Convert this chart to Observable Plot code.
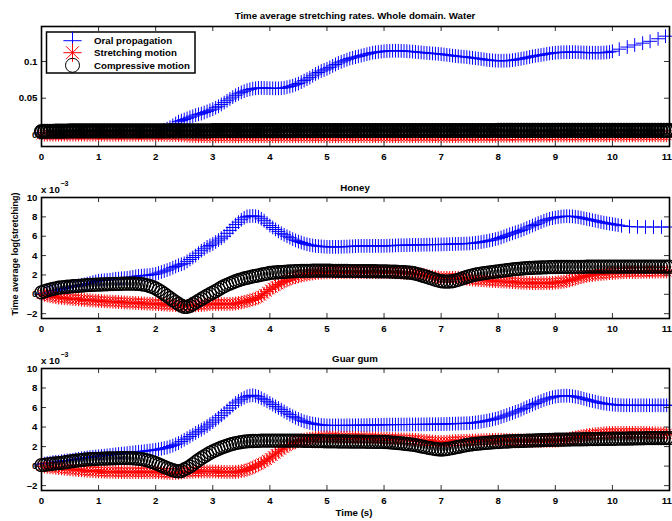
<!DOCTYPE html>
<html><head><meta charset="utf-8">
<script src="https://cdn.jsdelivr.net/npm/d3@7"></script>
<script src="https://cdn.jsdelivr.net/npm/@observablehq/plot@0.6"></script>
<style>
body{margin:0;background:#fff;}
#wrap{position:relative;width:672px;height:521px;overflow:hidden;background:#fff;}
</style></head><body><div id="wrap"></div>
<script>
// ---- time grid (s), one sample every 0.05 s ----
const times = [
0,0.05,0.1,0.15,0.2,0.25,0.3,0.35,0.4,0.45,0.5,0.55,0.6,0.65,0.7,0.75,0.8,0.85,0.9,0.95,
1,1.05,1.1,1.15,1.2,1.25,1.3,1.35,1.4,1.45,1.5,1.55,1.6,1.65,1.7,1.75,1.8,1.85,1.9,1.95,
2,2.05,2.1,2.15,2.2,2.25,2.3,2.35,2.4,2.45,2.5,2.55,2.6,2.65,2.7,2.75,2.8,2.85,2.9,2.95,
3,3.05,3.1,3.15,3.2,3.25,3.3,3.35,3.4,3.45,3.5,3.55,3.6,3.65,3.7,3.75,3.8,3.85,3.9,3.95,
4,4.05,4.1,4.15,4.2,4.25,4.3,4.35,4.4,4.45,4.5,4.55,4.6,4.65,4.7,4.75,4.8,4.85,4.9,4.95,
5,5.05,5.1,5.15,5.2,5.25,5.3,5.35,5.4,5.45,5.5,5.55,5.6,5.65,5.7,5.75,5.8,5.85,5.9,5.95,
6,6.05,6.1,6.15,6.2,6.25,6.3,6.35,6.4,6.45,6.5,6.55,6.6,6.65,6.7,6.75,6.8,6.85,6.9,6.95,
7,7.05,7.1,7.15,7.2,7.25,7.3,7.35,7.4,7.45,7.5,7.55,7.6,7.65,7.7,7.75,7.8,7.85,7.9,7.95,
8,8.05,8.1,8.15,8.2,8.25,8.3,8.35,8.4,8.45,8.5,8.55,8.6,8.65,8.7,8.75,8.8,8.85,8.9,8.95,
9,9.05,9.1,9.15,9.2,9.25,9.3,9.35,9.4,9.45,9.5,9.55,9.6,9.65,9.7,9.75,9.8,9.85,9.9,9.95,
10,10.05,10.1,10.15,10.2,10.25,10.3,10.35,10.4,10.45,10.5,10.55,10.6,10.65,10.7,10.75,10.8,10.85,10.9,10.95,
11];

const seriesNames = ["Oral propagation","Stretching motion","Compressive motion"];
const panelTitles = ["Time average stretching rates. Whole domain. Water","Honey","Guar gum"];
const xTicks = [0,1,2,3,4,5,6,7,8,9,10,11];
const yTicksWater = [0,0.05,0.1];
const yTicksFluid = [-2,0,2,4,6,8,10];

// ---- Water ----
const waterBlue = [
0.003,0.003,0.003,0.003,0.003,0.003,0.003,0.003,0.0032,0.0032,0.0034,0.0034,0.0035,0.0035,0.0036,0.0036,0.0038,0.0038,0.004,0.004,
0.004,0.0041,0.0042,0.0042,0.0043,0.0043,0.0044,0.0044,0.0045,0.0045,0.0046,0.0046,0.0047,0.0047,0.0048,0.0048,0.0049,0.0049,0.005,0.005,
0.005,0.0055,0.006,0.007,0.0085,0.0105,0.013,0.0155,0.018,0.0195,0.021,0.0225,0.024,0.0255,0.027,0.028,0.029,0.0305,0.032,0.0335,
0.035,0.037,0.039,0.0415,0.044,0.0465,0.049,0.0515,0.054,0.056,0.058,0.0595,0.061,0.062,0.063,0.0635,0.064,0.064,0.064,0.0638,
0.0636,0.0635,0.0634,0.0634,0.0636,0.0642,0.065,0.066,0.067,0.0685,0.070,0.072,0.074,0.076,0.078,0.0805,0.083,0.085,0.087,0.0885,
0.090,0.092,0.094,0.096,0.098,0.0995,0.101,0.1025,0.104,0.105,0.106,0.107,0.108,0.109,0.110,0.111,0.112,0.1125,0.113,0.1135,
0.114,0.1143,0.1145,0.1146,0.1146,0.1146,0.1145,0.1143,0.114,0.1138,0.1135,0.1131,0.1127,0.1124,0.112,0.1117,0.1113,0.111,0.1107,0.1104,
0.110,0.1095,0.109,0.1085,0.108,0.1075,0.107,0.1067,0.1064,0.106,0.1055,0.105,0.1045,0.104,0.1035,0.1029,0.1023,0.1019,0.1015,0.1012,
0.101,0.101,0.101,0.1012,0.1014,0.1019,0.1025,0.1031,0.1037,0.1045,0.1053,0.1061,0.107,0.1077,0.1083,0.1089,0.1095,0.1103,0.111,0.1115,
0.112,0.1123,0.1125,0.1126,0.1127,0.1128,0.1128,0.1128,0.1127,0.1125,0.1123,0.1121,0.112,0.112,0.112,0.112,0.112,0.1122,0.1125,0.113,
0.114];
const waterBlueTailT = [10.12,10.26,10.39,10.53,10.66,10.8,10.93];
const waterBlueTail = [0.1168,0.1197,0.1225,0.125,0.1275,0.131,0.1345];
const waterRed = [
0.0003,0.0003,0.0003,0.0003,0.0003,0.0003,0.0003,0.0003,0.0003,0.0003,0.0003,0.0003,0.0003,0.0003,0.0003,0.0003,0.0003,0.0003,0.0003,0.0003,
0.0002,0.0002,0.0002,0.0002,0.0002,0.0002,0.0002,0.0002,0.0002,0.0002,0.0002,0.0002,0.0002,0.0002,0.0002,0.0002,0.0002,0.0002,0.0002,0.0002,
0.0001,0.0001,0,0,0,0,-0.0001,-0.0002,-0.0003,-0.0005,-0.0007,-0.001,-0.0012,-0.0013,-0.0014,-0.0015,-0.0016,-0.0016,-0.0017,-0.0017,
-0.0018,-0.0018,-0.0018,-0.0018,-0.0018,-0.0018,-0.0018,-0.0018,-0.0018,-0.0018,-0.0018,-0.0018,-0.0018,-0.0018,-0.0018,-0.0018,-0.0018,-0.0018,-0.0018,-0.0018,
-0.0018,-0.0018,-0.0018,-0.0018,-0.0018,-0.0018,-0.0018,-0.0018,-0.0018,-0.0018,-0.0018,-0.0018,-0.0018,-0.0018,-0.0018,-0.0018,-0.0018,-0.0018,-0.0018,-0.0018,
-0.0018,-0.0018,-0.0018,-0.0018,-0.0018,-0.0018,-0.0018,-0.0018,-0.0018,-0.0018,-0.0017,-0.0017,-0.0017,-0.0017,-0.0017,-0.0017,-0.0017,-0.0017,-0.0017,-0.0017,
-0.0017,-0.0017,-0.0017,-0.0017,-0.0017,-0.0017,-0.0017,-0.0017,-0.0017,-0.0017,-0.0016,-0.0016,-0.0016,-0.0016,-0.0016,-0.0016,-0.0016,-0.0016,-0.0016,-0.0016,
-0.0016,-0.0016,-0.0016,-0.0016,-0.0016,-0.0016,-0.0015,-0.0015,-0.0015,-0.0015,-0.0015,-0.0015,-0.0015,-0.0015,-0.0014,-0.0014,-0.0014,-0.0014,-0.0013,-0.0013,
-0.0012,-0.0012,-0.0012,-0.0012,-0.0011,-0.0011,-0.0011,-0.0011,-0.001,-0.001,-0.001,-0.001,-0.001,-0.001,-0.0009,-0.0009,-0.0009,-0.0009,-0.0009,-0.0009,
-0.0008,-0.0008,-0.0008,-0.0008,-0.0008,-0.0008,-0.0008,-0.0008,-0.0008,-0.0008,-0.0007,-0.0007,-0.0007,-0.0007,-0.0007,-0.0007,-0.0007,-0.0007,-0.0007,-0.0007,
-0.0006,-0.0006,-0.0006,-0.0006,-0.0006,-0.0006,-0.0006,-0.0006,-0.0006,-0.0006,-0.0006,-0.0006,-0.0006,-0.0006,-0.0006,-0.0006,-0.0006,-0.0006,-0.0006,-0.0006,
-0.0006];
const waterBlack = [
0.0045,0.0048,0.005,0.005,0.005,0.0051,0.0052,0.0052,0.0053,0.0053,0.0054,0.0054,0.0055,0.0055,0.0055,0.0055,0.0055,0.0055,0.0055,0.0055,
0.0055,0.0055,0.0055,0.0055,0.0055,0.0055,0.0055,0.0055,0.0055,0.0055,0.0055,0.0055,0.0055,0.0055,0.0055,0.0055,0.0055,0.0055,0.0055,0.0055,
0.0055,0.0055,0.0055,0.0055,0.0055,0.0055,0.0055,0.0055,0.0055,0.0055,0.0056,0.0056,0.0056,0.0056,0.0056,0.0056,0.0056,0.0056,0.0056,0.0056,
0.0057,0.0057,0.0057,0.0057,0.0057,0.0057,0.0057,0.0057,0.0057,0.0057,0.0058,0.0058,0.0058,0.0058,0.0058,0.0058,0.0058,0.0058,0.0058,0.0058,
0.0059,0.0059,0.0059,0.0059,0.0059,0.0059,0.0059,0.0059,0.0059,0.0059,0.006,0.006,0.006,0.006,0.006,0.006,0.006,0.006,0.006,0.006,
0.006,0.006,0.006,0.006,0.006,0.006,0.006,0.006,0.006,0.006,0.006,0.006,0.006,0.006,0.006,0.006,0.006,0.006,0.006,0.006,
0.006,0.006,0.006,0.006,0.006,0.006,0.006,0.006,0.006,0.006,0.006,0.006,0.006,0.006,0.006,0.006,0.006,0.006,0.006,0.006,
0.006,0.006,0.006,0.006,0.006,0.006,0.006,0.006,0.006,0.006,0.006,0.006,0.006,0.006,0.006,0.006,0.006,0.006,0.006,0.006,
0.0061,0.0061,0.0061,0.0061,0.0061,0.0061,0.0061,0.0061,0.0061,0.0061,0.0061,0.0061,0.0061,0.0061,0.0061,0.0061,0.0061,0.0061,0.0061,0.0061,
0.0062,0.0062,0.0062,0.0062,0.0062,0.0062,0.0062,0.0062,0.0062,0.0062,0.0062,0.0062,0.0062,0.0062,0.0062,0.0062,0.0062,0.0062,0.0062,0.0062,
0.0062,0.0062,0.0062,0.0062,0.0062,0.0062,0.0062,0.0062,0.0062,0.0062,0.0062,0.0062,0.0062,0.0062,0.0062,0.0062,0.0062,0.0062,0.0062,0.0062,
0.0062];

// ---- Honey (x 10^-3) ----
const honeyBlue = [
0.0,0.07,0.15,0.22,0.3,0.37,0.45,0.52,0.6,0.67,0.75,0.8,0.85,0.9,0.95,1.02,1.1,1.17,1.25,1.32,
1.4,1.42,1.45,1.47,1.5,1.55,1.6,1.62,1.65,1.67,1.7,1.75,1.8,1.85,1.9,1.92,1.95,1.97,2.0,2.05,
2.1,2.2,2.3,2.4,2.5,2.62,2.75,2.87,3.0,3.1,3.2,3.4,3.6,3.8,4.0,4.25,4.5,4.7,4.9,5.05,
5.2,5.4,5.6,5.8,6.0,6.3,6.6,6.9,7.2,7.45,7.7,7.9,8.05,8.08,8.1,8.07,8.0,7.8,7.6,7.35,
7.1,6.9,6.7,6.5,6.3,6.15,6.0,5.85,5.7,5.57,5.45,5.35,5.25,5.17,5.1,5.05,5.0,4.97,4.95,4.92,
4.9,4.9,4.9,4.9,4.9,4.91,4.92,4.93,4.95,4.96,4.98,4.99,5.0,5.0,5.0,5.0,5.0,5.0,5.0,5.0,
5.0,5.01,5.02,5.03,5.05,5.06,5.07,5.07,5.08,5.09,5.1,5.1,5.1,5.11,5.12,5.12,5.13,5.13,5.14,5.14,
5.15,5.16,5.17,5.18,5.19,5.2,5.21,5.22,5.23,5.24,5.25,5.28,5.32,5.36,5.4,5.45,5.5,5.56,5.62,5.7,
5.77,5.87,5.98,6.09,6.2,6.3,6.4,6.5,6.6,6.72,6.85,6.97,7.1,7.22,7.35,7.47,7.6,7.7,7.8,7.87,
7.93,7.98,8.02,8.05,8.07,8.06,8.05,8.01,7.97,7.91,7.85,7.79,7.73,7.66,7.6,7.53,7.46,7.4,7.35,7.3,
7.25,7.2,7.15];
const honeyBlueTailT = [10.16,10.3,10.44,10.58,10.72,10.86,11.0];
const honeyBlueTail = [7.08,7.0,6.96,6.95,6.95,6.95,6.95];
const honeyRed = [
0,-0.06,-0.12,-0.18,-0.25,-0.3,-0.34,-0.37,-0.4,-0.43,-0.45,-0.48,-0.5,-0.53,-0.55,-0.58,-0.6,-0.62,-0.64,-0.66,
-0.68,-0.7,-0.72,-0.74,-0.75,-0.77,-0.78,-0.8,-0.82,-0.84,-0.85,-0.87,-0.88,-0.9,-0.91,-0.93,-0.94,-0.96,-0.97,-0.99,
-1.0,-1.02,-1.03,-1.05,-1.07,-1.09,-1.1,-1.12,-1.15,-1.18,-1.2,-1.19,-1.18,-1.16,-1.14,-1.12,-1.1,-1.08,-1.05,-1.02,
-1.0,-1.0,-1.0,-1.0,-1.0,-1.0,-1.0,-1.0,-0.95,-0.9,-0.85,-0.78,-0.7,-0.63,-0.55,-0.45,-0.34,-0.15,0.05,0.27,
0.5,0.67,0.85,1.02,1.2,1.32,1.45,1.58,1.7,1.78,1.85,1.93,2.0,2.05,2.1,2.15,2.2,2.22,2.25,2.26,
2.27,2.28,2.28,2.29,2.3,2.3,2.3,2.3,2.3,2.3,2.3,2.3,2.3,2.3,2.3,2.3,2.3,2.3,2.3,2.3,
2.3,2.3,2.3,2.3,2.28,2.27,2.25,2.23,2.22,2.21,2.2,2.15,2.1,2.05,2.0,1.93,1.86,1.81,1.76,1.73,
1.7,1.7,1.7,1.7,1.7,1.7,1.7,1.67,1.63,1.6,1.56,1.53,1.5,1.48,1.46,1.44,1.42,1.4,1.38,1.36,
1.35,1.33,1.31,1.3,1.28,1.26,1.24,1.22,1.2,1.19,1.18,1.17,1.16,1.15,1.15,1.15,1.15,1.16,1.17,1.18,
1.2,1.23,1.27,1.31,1.35,1.43,1.52,1.61,1.7,1.77,1.84,1.9,1.96,2.0,2.03,2.07,2.1,2.13,2.15,2.18,
2.2,2.22,2.25,2.27,2.28,2.29,2.3,2.3,2.3,2.31,2.32,2.32,2.33,2.33,2.34,2.34,2.35,2.35,2.35,2.35,
2.35];
const honeyBlack = [
0.2,0.3,0.4,0.48,0.55,0.62,0.68,0.72,0.75,0.78,0.8,0.83,0.85,0.88,0.9,0.92,0.94,0.96,0.97,0.99,
1.0,1.01,1.02,1.04,1.05,1.06,1.07,1.08,1.09,1.1,1.1,1.1,1.1,1.09,1.07,1.04,1.0,0.93,0.85,0.74,
0.6,0.43,0.25,0.04,-0.17,-0.38,-0.6,-0.8,-1.0,-1.17,-1.3,-1.3,-1.2,-1.03,-0.85,-0.67,-0.5,-0.32,-0.15,0.01,
0.17,0.33,0.5,0.68,0.85,0.98,1.1,1.23,1.35,1.45,1.55,1.63,1.7,1.78,1.85,1.9,1.96,2.02,2.08,2.14,
2.2,2.23,2.25,2.28,2.3,2.32,2.34,2.36,2.37,2.39,2.4,2.41,2.42,2.43,2.43,2.44,2.44,2.44,2.44,2.44,
2.44,2.44,2.43,2.43,2.42,2.42,2.41,2.41,2.4,2.4,2.4,2.4,2.39,2.39,2.38,2.38,2.38,2.38,2.37,2.37,
2.37,2.36,2.35,2.34,2.33,2.32,2.3,2.28,2.25,2.23,2.2,2.13,2.05,1.97,1.88,1.79,1.7,1.6,1.5,1.42,
1.35,1.32,1.3,1.32,1.35,1.42,1.5,1.6,1.7,1.79,1.88,1.96,2.03,2.08,2.13,2.18,2.22,2.26,2.3,2.34,
2.37,2.41,2.45,2.49,2.53,2.57,2.6,2.63,2.65,2.68,2.7,2.72,2.73,2.75,2.76,2.77,2.78,2.79,2.8,2.81,
2.82,2.82,2.83,2.83,2.83,2.84,2.84,2.84,2.84,2.84,2.84,2.85,2.85,2.85,2.85,2.85,2.85,2.85,2.85,2.85,
2.85,2.85,2.85,2.85,2.85,2.85,2.85,2.85,2.85,2.85,2.85,2.85,2.85,2.85,2.85,2.85,2.85,2.85,2.85,2.85,
2.85];

// ---- Guar gum (x 10^-3) ----
const guarBlue = [
0.2,0.25,0.3,0.35,0.4,0.43,0.45,0.5,0.55,0.58,0.6,0.65,0.7,0.75,0.8,0.84,0.88,0.92,0.95,0.98,
1.0,1.04,1.07,1.1,1.13,1.17,1.2,1.24,1.27,1.3,1.33,1.37,1.4,1.44,1.47,1.5,1.53,1.57,1.6,1.64,
1.67,1.72,1.78,1.84,1.9,2.0,2.1,2.23,2.36,2.53,2.7,2.87,3.04,3.22,3.4,3.57,3.73,3.91,4.1,4.3,
4.5,4.72,4.95,5.2,5.45,5.7,5.95,6.21,6.47,6.67,6.85,7.0,7.15,7.22,7.26,7.2,7.1,6.95,6.8,6.64,
6.47,6.3,6.12,5.95,5.78,5.6,5.43,5.27,5.1,4.96,4.83,4.7,4.58,4.5,4.42,4.36,4.3,4.26,4.22,4.2,
4.17,4.17,4.17,4.17,4.17,4.17,4.17,4.18,4.18,4.18,4.18,4.19,4.19,4.2,4.2,4.21,4.21,4.22,4.22,4.23,
4.24,4.24,4.25,4.25,4.25,4.25,4.26,4.26,4.26,4.26,4.27,4.27,4.27,4.27,4.28,4.28,4.29,4.29,4.29,4.29,
4.3,4.31,4.32,4.33,4.34,4.35,4.36,4.37,4.38,4.39,4.4,4.43,4.47,4.51,4.55,4.6,4.65,4.71,4.78,4.85,
4.93,5.03,5.13,5.23,5.34,5.44,5.55,5.66,5.78,5.91,6.04,6.17,6.3,6.42,6.55,6.66,6.78,6.88,6.97,7.05,
7.12,7.16,7.19,7.21,7.22,7.2,7.16,7.11,7.05,6.98,6.9,6.82,6.74,6.67,6.6,6.53,6.47,6.42,6.38,6.34,
6.3,6.28,6.26,6.24,6.23,6.23,6.23,6.23,6.23,6.23,6.23,6.23,6.23,6.23,6.23,6.23,6.23,6.23,6.23,6.23,
6.23];
const guarRed = [
0,-0.04,-0.08,-0.12,-0.15,-0.18,-0.2,-0.23,-0.27,-0.3,-0.33,-0.36,-0.38,-0.41,-0.43,-0.46,-0.48,-0.5,-0.52,-0.54,
-0.55,-0.56,-0.57,-0.58,-0.59,-0.59,-0.6,-0.6,-0.61,-0.61,-0.62,-0.62,-0.62,-0.62,-0.62,-0.62,-0.62,-0.62,-0.62,-0.62,
-0.62,-0.63,-0.65,-0.67,-0.69,-0.71,-0.72,-0.7,-0.68,-0.65,-0.62,-0.6,-0.58,-0.57,-0.56,-0.55,-0.55,-0.55,-0.55,-0.55,
-0.55,-0.56,-0.57,-0.58,-0.59,-0.6,-0.6,-0.6,-0.6,-0.57,-0.52,-0.46,-0.38,-0.27,-0.15,-0.01,0.13,0.29,0.45,0.63,
0.82,1.03,1.25,1.46,1.67,1.87,2.05,2.21,2.36,2.46,2.55,2.63,2.7,2.75,2.8,2.84,2.88,2.9,2.92,2.93,
2.94,2.94,2.93,2.93,2.92,2.91,2.9,2.9,2.89,2.89,2.88,2.87,2.86,2.86,2.85,2.84,2.83,2.83,2.82,2.81,
2.8,2.79,2.78,2.77,2.76,2.75,2.74,2.73,2.72,2.71,2.7,2.68,2.66,2.63,2.6,2.58,2.55,2.52,2.5,2.48,
2.47,2.48,2.5,2.52,2.54,2.56,2.57,2.58,2.59,2.6,2.6,2.61,2.62,2.63,2.64,2.65,2.66,2.67,2.68,2.69,
2.7,2.69,2.68,2.67,2.66,2.65,2.64,2.63,2.62,2.61,2.6,2.6,2.6,2.6,2.6,2.6,2.6,2.6,2.6,2.6,
2.6,2.62,2.65,2.7,2.75,2.81,2.88,2.94,3.0,3.05,3.1,3.15,3.2,3.24,3.27,3.3,3.32,3.35,3.37,3.39,
3.4,3.4,3.4,3.4,3.4,3.4,3.4,3.4,3.4,3.4,3.4,3.4,3.39,3.38,3.37,3.36,3.35,3.34,3.33,3.32,
3.3];
const guarBlack = [
0.1,0.13,0.17,0.2,0.24,0.27,0.3,0.34,0.38,0.42,0.47,0.51,0.55,0.59,0.62,0.65,0.68,0.7,0.72,0.74,
0.75,0.76,0.77,0.78,0.79,0.8,0.8,0.81,0.81,0.82,0.82,0.81,0.8,0.78,0.75,0.71,0.65,0.58,0.5,0.41,
0.3,0.18,0.05,-0.08,-0.2,-0.32,-0.42,-0.5,-0.55,-0.5,-0.35,-0.2,-0.04,0.18,0.4,0.61,0.82,1.0,1.18,1.35,
1.5,1.64,1.77,1.89,2.0,2.1,2.2,2.28,2.36,2.41,2.46,2.5,2.53,2.55,2.57,2.58,2.59,2.6,2.6,2.6,
2.6,2.6,2.6,2.6,2.6,2.6,2.6,2.6,2.6,2.6,2.6,2.6,2.59,2.59,2.58,2.57,2.56,2.56,2.55,2.54,
2.53,2.53,2.53,2.53,2.52,2.52,2.52,2.52,2.51,2.51,2.51,2.5,2.5,2.5,2.49,2.49,2.49,2.48,2.48,2.48,
2.47,2.45,2.43,2.4,2.38,2.35,2.32,2.29,2.26,2.23,2.2,2.14,2.08,2.02,1.96,1.9,1.85,1.8,1.75,1.71,
1.68,1.71,1.75,1.8,1.85,1.91,1.97,2.03,2.09,2.15,2.2,2.24,2.27,2.3,2.33,2.36,2.38,2.41,2.43,2.45,
2.47,2.49,2.5,2.52,2.53,2.55,2.56,2.57,2.58,2.59,2.6,2.61,2.62,2.63,2.64,2.65,2.66,2.67,2.68,2.69,
2.7,2.7,2.71,2.71,2.72,2.72,2.73,2.73,2.74,2.74,2.75,2.75,2.76,2.76,2.77,2.77,2.78,2.78,2.79,2.79,
2.8,2.8,2.81,2.81,2.82,2.82,2.83,2.83,2.84,2.84,2.85,2.85,2.86,2.86,2.86,2.86,2.87,2.87,2.87,2.88,
2.88];

// ---- drawing ----
const FONT = '"Liberation Sans", Arial, Helvetica, sans-serif';
const BLUE = "#0000ff", RED = "#ff0000", BLACK = "#000000";
const W = 672, ML = 41, MR = 3, FW = W - ML - MR;

const rows = (t, v) => v.map((y, i) => ({t: t[i], v: y}));

function dataMarks(blueSets, red, black, blackWidth) {
  const m = [];
  for (const d of blueSets) m.push(Plot.dot(d, {x: "t", y: "v", symbol: "plus", r: 4.5, stroke: BLUE, strokeWidth: 1}));
  m.push(Plot.dot(red, {x: "t", y: "v", symbol: "plus", r: 4.5, stroke: RED, strokeWidth: 1}));
  m.push(Plot.dot(red, {x: "t", y: "v", symbol: "times", r: 4.5, stroke: RED, strokeWidth: 1}));
  m.push(Plot.dot(black, {x: "t", y: "v", symbol: "circle", r: 6.5, stroke: BLACK, fill: "none", strokeWidth: blackWidth}));
  return m;
}

function panel(cfg) {
  const H = cfg.mt + cfg.fh + cfg.mb;
  return Plot.plot({
    width: W, height: H,
    marginLeft: ML, marginRight: MR, marginTop: cfg.mt, marginBottom: cfg.mb,
    x: {domain: [0, 11]},
    y: {domain: cfg.yDomain},
    style: {position: "absolute", left: "0px", top: cfg.top + "px", overflow: "visible",
            background: "transparent", fontFamily: FONT, fontSize: "9.7px", fontWeight: "bold", color: "#000"},
    marks: [
      ...cfg.marks,
      Plot.tickX(xTicks, {x: d => d, insetTop: cfg.fh - 5, stroke: "#333", strokeWidth: 1}),
      Plot.tickX(xTicks, {x: d => d, insetBottom: cfg.fh - 5, stroke: "#333", strokeWidth: 1}),
      Plot.tickY(cfg.yTicks, {y: d => d, insetRight: FW - 5, stroke: "#333", strokeWidth: 1}),
      Plot.tickY(cfg.yTicks, {y: d => d, insetLeft: FW - 5, stroke: "#333", strokeWidth: 1}),
      Plot.frame({stroke: BLACK, strokeWidth: 1.6}),
      Plot.axisX(xTicks.slice(0, -1), {tickSize: 0, tickPadding: 7, label: null, tickFormat: d => String(d)}),
      Plot.axisX(xTicks.slice(-1), {tickSize: 0, tickPadding: 7, label: null, tickFormat: d => String(d), textAnchor: "end", dx: 2.5}),
      Plot.axisY(cfg.yTicks, {tickSize: 0, tickPadding: 4, label: null, tickFormat: cfg.fmt})
    ]
  });
}

const wrap = document.getElementById("wrap");
const negFmt = d => d < 0 ? "\u2013" + Math.abs(d) : String(d);

wrap.appendChild(panel({
  top: 0, mt: 26, fh: 120, mb: 25,
  yDomain: [-0.0158, 0.1477], yTicks: yTicksWater,
  fmt: d => d === 0 ? "0" : String(d),
  marks: dataMarks([rows(times, waterBlue), rows(waterBlueTailT, waterBlueTail)],
                   rows(times, waterRed), rows(times, waterBlack), 2.2)
}));
wrap.appendChild(panel({
  top: 171, mt: 26, fh: 121, mb: 25,
  yDomain: [-2.5, 10], yTicks: yTicksFluid, fmt: negFmt,
  marks: dataMarks([rows(times, honeyBlue), rows(honeyBlueTailT, honeyBlueTail)],
                   rows(times, honeyRed), rows(times, honeyBlack), 1.3)
}));
wrap.appendChild(panel({
  top: 342, mt: 26, fh: 122, mb: 31,
  yDomain: [-2.5, 10], yTicks: yTicksFluid, fmt: negFmt,
  marks: dataMarks([rows(times, guarBlue)], rows(times, guarRed), rows(times, guarBlack), 1.3)
}));

// ---- overlay: titles, labels, legend ----
const ov = d3.select(wrap).append("svg")
  .attr("width", W).attr("height", 521)
  .style("position", "absolute").style("left", "0px").style("top", "0px")
  .style("overflow", "visible")
  .attr("font-family", FONT).attr("font-weight", "bold").attr("font-size", "9.7px");

const cx = ML + FW / 2;
[[panelTitles[0], 15], [panelTitles[1], 187], [panelTitles[2], 358]].forEach(([t, y]) => {
  ov.append("text").attr("x", cx).attr("y", y).attr("text-anchor", "middle")
    .attr("dominant-baseline", "central").text(t);
});
[[189, 183.5], [360, 354.5]].forEach(([y, ys]) => {
  ov.append("text").attr("x", 41).attr("y", y).attr("dominant-baseline", "central").text("x 10");
  ov.append("text").attr("x", 60.5).attr("y", ys).attr("dominant-baseline", "central")
    .attr("font-size", "7px").text("\u22123");
});
ov.append("text").attr("transform", "translate(15,254) rotate(-90)")
  .attr("text-anchor", "middle").attr("dominant-baseline", "central").attr("font-size", "9px")
  .text("Time average log(stretching)");
ov.append("text").attr("x", 354).attr("y", 512).attr("text-anchor", "middle")
  .attr("dominant-baseline", "central").text("Time (s)");

// legend
const lg = ov.append("g");
lg.append("rect").attr("x", 46.5).attr("y", 32).attr("width", 148.5).attr("height", 41)
  .attr("fill", "#fff").attr("stroke", "#000").attr("stroke-width", 1.5);
const legendRows = [
  {name: seriesNames[0], y: 40.7, syms: [d3.symbolPlus], color: BLUE, size: 110},
  {name: seriesNames[1], y: 52.7, syms: [d3.symbolPlus, d3.symbolTimes], color: RED, size: 110},
  {name: seriesNames[2], y: 65.3, syms: [d3.symbolCircle], color: BLACK, size: Math.PI * 49}
];
legendRows.forEach(r => {
  r.syms.forEach(s => {
    lg.append("path").attr("d", d3.symbol(s, r.size)())
      .attr("transform", `translate(72.5,${r.y})`)
      .attr("fill", "none").attr("stroke", r.color).attr("stroke-width", 1);
  });
  lg.append("text").attr("x", 94).attr("y", r.y).attr("dominant-baseline", "central").text(r.name);
});
</script>
</body></html>
